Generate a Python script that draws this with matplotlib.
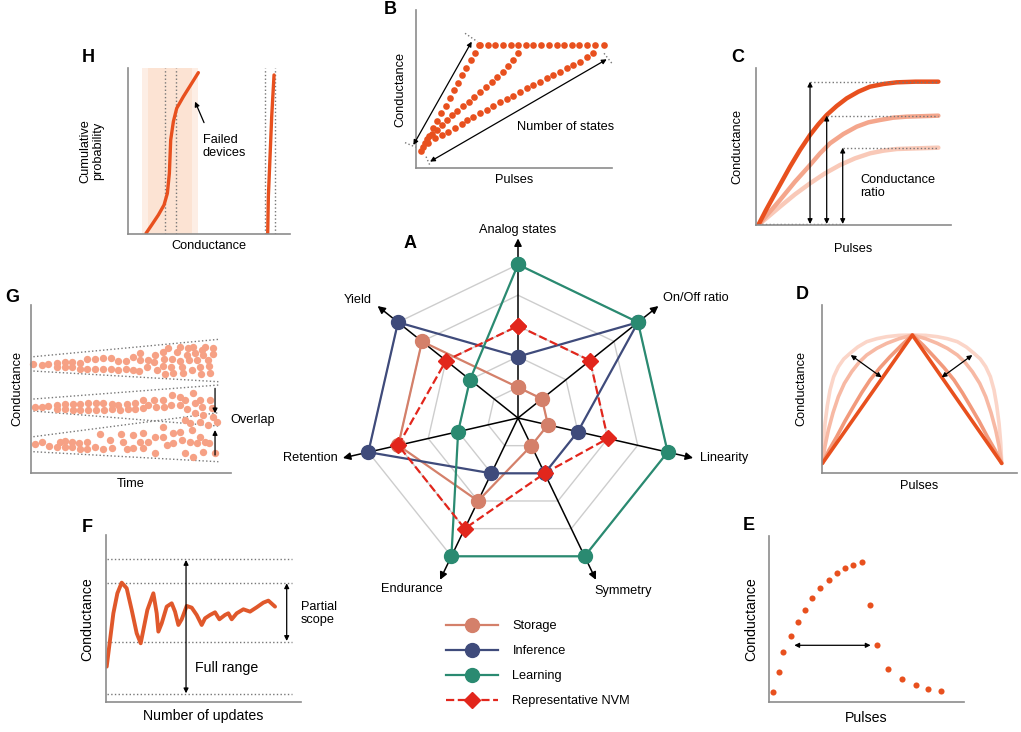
"""
NVM device requirement overview: radar chart (A) with schematic panels B-H.
"""
import numpy as np
import matplotlib
matplotlib.use("Agg")
import matplotlib.pyplot as plt

plt.rcParams["font.family"] = ["Liberation Sans", "DejaVu Sans"]

# ---------------- data ----------------
# A: radar
axis_names = ["Analog states", "On/Off ratio", "Linearity", "Symmetry",
              "Endurance", "Retention", "Yield"]
storage = [1, 1, 1, 1, 3, 4, 4]
inference = [2, 5, 2, 2, 2, 5, 5]
learning = [5, 5, 5, 5, 5, 2, 2]
nvm = [3, 3, 3, 2, 4, 4, 3]
ring_levels = [1, 2, 3, 4, 5]

# B: pulse-by-pulse conductance states (three devices)
b_steep_x = [15, 27, 40, 52, 65, 77, 90, 102, 115, 127, 140, 152, 165, 177, 190,
             193, 216, 238, 261, 285, 308, 331, 353, 376, 400, 423, 446, 468, 491, 515, 538, 565]
b_steep_y = [53, 75, 98, 120, 143, 166, 188, 211, 234, 256, 279, 302, 324, 347, 370,
             370, 370, 370, 370, 370, 370, 370, 370, 370, 370, 370, 370, 370, 370, 370, 370, 370]
b_mid_x = [33, 48, 63, 78, 93, 108, 125, 143, 161, 176, 193, 211, 228, 245, 261, 278, 293, 308]
b_mid_y = [87, 103, 115, 130, 145, 160, 173, 187, 200, 213, 228, 243, 260, 275, 290, 307, 325, 345]
b_low_x = [23, 38, 58, 78, 98, 118, 138, 155, 173, 193, 213, 233, 253, 273, 293, 313, 333, 353,
           373, 393, 413, 433, 453, 473, 493, 515, 533]
b_low_y = [65, 75, 90, 100, 110, 120, 133, 145, 155, 165, 175, 188, 198, 207, 217, 228, 240, 250,
           260, 270, 280, 290, 300, 310, 320, 333, 345]

# C: conductance ratio curves
c_x_dark = [8, 30, 53, 78, 103, 133, 163, 188, 213, 243, 273, 308, 343, 383, 423, 480, 548]
c_y_dark = [0, 43, 85, 130, 175, 225, 270, 302, 330, 357, 380, 400, 415, 423, 428, 430, 430]
c_x_mid = [8, 40, 73, 118, 163, 193, 223, 263, 303, 338, 373, 413, 453, 548]
c_y_mid = [0, 37, 75, 130, 180, 215, 245, 273, 295, 308, 315, 322, 325, 328]
c_x_light = [8, 40, 73, 118, 163, 208, 253, 298, 343, 383, 423, 548]
c_y_light = [0, 27, 55, 92, 125, 155, 180, 200, 215, 223, 228, 232]
c_levels = [430, 328, 232]
c_level_start = [163, 213, 261]
c_arrow_x = [163, 213, 261]

# D: potentiation / depression symmetry
d_x_lin = [2, 272, 540]
d_y_lin = [28, 413, 28]
d_x1 = [2, 5, 10, 17, 25, 36, 50, 66, 85, 108, 135, 165, 195, 232, 272,
        312, 347, 377, 407, 434, 457, 476, 492, 506, 517, 525, 532, 537, 540]
d_y1 = [28, 90, 148, 202, 248, 288, 318, 341, 358, 377, 393, 402, 408, 412, 413,
        412, 408, 402, 393, 377, 358, 341, 318, 288, 248, 202, 148, 90, 28]
d_x2 = [2, 10, 20, 34, 50, 68, 90, 112, 135, 165, 195, 232, 272,
        312, 347, 377, 407, 430, 452, 474, 492, 508, 522, 532, 540]
d_y2 = [28, 80, 128, 180, 228, 268, 303, 331, 353, 373, 388, 402, 413,
        402, 388, 373, 353, 331, 303, 268, 228, 180, 128, 80, 28]
d_x3 = [2, 22, 45, 70, 95, 120, 145, 175, 205, 238, 272,
        306, 337, 367, 397, 422, 447, 472, 497, 520, 540]
d_y3 = [28, 68, 108, 155, 198, 240, 278, 315, 348, 381, 413,
        381, 348, 315, 278, 240, 198, 155, 108, 68, 28]

# E: asymmetric up/down pulses
e_x = [12, 28, 42, 64, 86, 106, 128, 152, 180, 204, 228, 252, 277,
       302, 322, 357, 397, 440, 477, 515]
e_y = [30, 91, 151, 198, 241, 278, 313, 343, 367, 388, 402, 413, 420,
       291, 171, 101, 69, 51, 40, 33]

# F: conductance during updates
f_x = [3, 13, 23, 35, 48, 63, 78, 93, 105, 113, 125, 143, 153, 158, 168, 183, 198, 208,
       218, 228, 243, 258, 273, 288, 298, 313, 328, 341, 358, 368, 378, 393, 413, 433,
       453, 473, 488, 508]
f_y = [107, 187, 267, 327, 359, 342, 277, 207, 177, 217, 277, 327, 267, 212, 237, 287, 297, 272,
       232, 249, 289, 284, 262, 232, 252, 262, 270, 249, 262, 267, 249, 267, 279, 272,
       285, 299, 305, 287]
f_levels = [430, 357, 182, 25]

# G: retention drift of three levels
g1_x = [8, 33, 53, 78, 80, 103, 103, 123, 123, 148, 148, 170, 170, 193, 193, 216, 218, 241, 241,
        263, 263, 286, 286, 308, 308, 328, 328, 326, 348, 353, 373, 370, 378, 398, 400, 398, 403,
        413, 423, 420, 428, 438, 448, 448, 453, 458, 468, 473, 476, 483, 488, 493, 498, 508, 510,
        513, 518, 523, 533, 536, 538, 546, 548]
g1_y = [326, 323, 326, 330, 316, 333, 316, 333, 316, 330, 310, 340, 311, 340, 311, 343, 311, 343, 311,
        335, 308, 335, 310, 348, 308, 360, 338, 305, 316, 338, 353, 333, 308, 363, 340, 320, 296,
        373, 340, 318, 298, 363, 376, 335, 318, 298, 353, 373, 338, 308, 378, 358, 338, 318, 296,
        368, 353, 376, 338, 320, 298, 373, 356]
g2_x = [13, 33, 53, 80, 80, 103, 103, 126, 126, 148, 148, 173, 173, 196, 196, 218, 220, 243, 243,
        263, 268, 288, 293, 313, 313, 338, 338, 353, 370, 376, 398, 400, 423, 420, 448, 448, 463,
        468, 488, 493, 493, 508, 513, 518, 538, 543, 548, 560, 463, 478, 508, 533]
g2_y = [196, 198, 200, 203, 190, 206, 190, 206, 188, 206, 188, 208, 188, 208, 188, 208, 188, 205, 190,
        203, 188, 206, 190, 208, 191, 218, 193, 203, 218, 196, 218, 198, 233, 203, 228, 203, 218,
        190, 238, 208, 178, 218, 198, 173, 218, 193, 168, 153, 158, 148, 153, 143]
g3_x = [13, 33, 56, 78, 88, 103, 103, 123, 123, 146, 148, 168, 170, 193, 208, 218, 238, 243, 270,
        278, 288, 308, 308, 328, 336, 336, 353, 373, 373, 398, 398, 408, 428, 428, 448, 453, 463,
        478, 483, 488, 498, 508, 518, 523, 536, 553]
g3_y = [86, 91, 81, 78, 93, 95, 78, 93, 78, 90, 70, 93, 70, 78, 116, 70, 98, 75, 116,
        93, 70, 113, 75, 93, 120, 73, 93, 58, 108, 138, 108, 83, 118, 88, 123, 98, 58,
        93, 128, 48, 88, 108, 63, 93, 90, 58]
g_bound_x = [8, 563]
g_bounds_y = [[348, 400], [305, 273], [221, 263], [185, 140], [108, 180], [63, 33]]

# H: cumulative distribution
h_x_low = [55, 72, 92, 109, 119, 125, 129, 137, 147, 167, 192, 212]
h_y_low = [3, 28, 58, 88, 123, 183, 283, 338, 378, 413, 453, 485]
h_x_high = [420, 422, 427, 432, 439]
h_y_high = [3, 113, 233, 353, 478]
h_guides = [113, 145, 411, 443]

# ---------------- style ----------------
ORANGE = "#e8501e"
F_ORANGE = "#e0582b"
SALMON = "#f6a185"
SPINE = "#8c8c8c"
DOT = "#777777"
FS = 9.2
FS_BIG = 10.2

W, H = 1021, 732
fig = plt.figure(figsize=(W / 100, H / 100), dpi=100)


def panel(left, top, right, bottom):
    ax = fig.add_axes([left / W, 1 - bottom / H, (right - left) / W, (bottom - top) / H])
    ax.set_xlim(0, (right - left) * 3)
    ax.set_ylim(0, (bottom - top) * 3)
    ax.set_xticks([])
    ax.set_yticks([])
    for s in ["top", "right"]:
        ax.spines[s].set_visible(False)
    for s in ["left", "bottom"]:
        ax.spines[s].set_color(SPINE)
        ax.spines[s].set_linewidth(1.2)
    ax.patch.set_alpha(0)
    return ax


def darrow(ax, x0, y0, x1, y1, style="<|-|>", ms=7):
    ax.annotate("", xy=(x1, y1), xytext=(x0, y0),
                arrowprops=dict(arrowstyle=style, color="black", lw=0.9,
                                mutation_scale=ms, shrinkA=0, shrinkB=0))


def letter(x, y, s):
    fig.text(x / W, 1 - y / H, s, fontsize=13, fontweight="bold", ha="center", va="center")


# ---------------- A: radar ----------------
cx, cy, rad = 518, 418, 6.4 * 30.7
axr = fig.add_axes([(cx - rad) / W, 1 - (cy + rad) / H, 2 * rad / W, 2 * rad / H], projection="polar")
axr.set_theta_offset(np.pi / 2)
axr.set_theta_direction(-1)
axr.set_ylim(0, 6.4)
axr.grid(False)
axr.set_xticks([])
axr.set_yticks([])
axr.spines["polar"].set_visible(False)
axr.patch.set_visible(False)

theta = np.arange(len(axis_names)) * 2 * np.pi / len(axis_names)
theta_c = np.append(theta, theta[0])

for lv in ring_levels:
    axr.plot(theta_c, [lv] * len(theta_c), color="#cdcdcd", lw=1, zorder=1)
for th in theta:
    axr.annotate("", xy=(th, 5.85), xytext=(th, 0),
                 arrowprops=dict(arrowstyle="-|>", color="black", lw=1.1,
                                 mutation_scale=11, shrinkA=0, shrinkB=0), zorder=2)

series = [
    (storage, "Storage", "#d4806a", "-", "o"),
    (inference, "Inference", "#3f4b7b", "-", "o"),
    (learning, "Learning", "#2a8a71", "-", "o"),
    (nvm, "Representative NVM", "#e2261c", "--", "D"),
]
handles = []
for vals, name, col, ls, mk in series:
    v = np.append(vals, vals[0])
    ln, = axr.plot(theta_c, v, color=col, lw=1.6, ls=ls, marker=mk,
                   ms=10 if mk == "o" else 8.5, markeredgecolor=col,
                   markerfacecolor=col, zorder=3, label=name, clip_on=False)
    handles.append(ln)

label_deg = [0, 50.4, 102.4, 148.8, 211.8, 257.5, 306.4]
label_r = [6.12, 6.12, 6.07, 6.6, 6.55, 6.0, 6.47]
label_ha = ["center", "left", "left", "center", "center", "right", "center"]
for name, dg, rr, ha in zip(axis_names, label_deg, label_r, label_ha):
    axr.text(np.deg2rad(dg), rr, name, ha=ha, va="center", fontsize=FS)

axr.legend(handles=handles, loc="upper left", bbox_to_anchor=(446 / W, 1 - 620 / H),
           bbox_transform=fig.transFigure, frameon=False, fontsize=FS,
           handlelength=4.1, handletextpad=1.1, labelspacing=1.02,
           borderpad=0, borderaxespad=0)
letter(410, 243, "A")

# ---------------- B ----------------
ax = panel(415.7, 10, 611.7, 168.3)
ax.plot(b_low_x, b_low_y, "o", color=ORANGE, ms=4.8, mec="none", clip_on=False)
ax.plot(b_mid_x, b_mid_y, "o", color=ORANGE, ms=4.8, mec="none", clip_on=False)
ax.plot(b_steep_x, b_steep_y, "o", color=ORANGE, ms=4.8, mec="none", clip_on=False)
darrow(ax, -7, 70, 168, 380)
darrow(ax, 43, 20, 573, 327)
for (x0, y0, x1, y1) in [(-32, 77, 1, 63), (148, 405, 185, 380), (31, 35, 43, 8), (565, 345, 590, 313)]:
    ax.plot([x0, x1], [y0, y1], ls=":", color=DOT, lw=1, clip_on=False)
ax.text(303, 123, "Number of states", fontsize=FS, va="center")
ax.set_xlabel("Pulses", fontsize=FS, labelpad=4)
ax.set_ylabel("Conductance", fontsize=FS, labelpad=7)
letter(390, 9, "B")

# ---------------- C ----------------
ax = panel(755.7, 68.3, 950.7, 225)
ax.plot(c_x_light, c_y_light, color="#f9c9b8", lw=3.2, solid_capstyle="round")
ax.plot(c_x_mid, c_y_mid, color="#f4a68c", lw=3.2, solid_capstyle="round")
ax.plot(c_x_dark, c_y_dark, color=ORANGE, lw=3.2, solid_capstyle="round")
ax.hlines(c_levels, c_level_start, 548, colors=DOT, linestyles=":", lw=1)
ax.hlines(3, 8, 263, colors=DOT, linestyles=":", lw=1)
for xa, lv in zip(c_arrow_x, c_levels):
    darrow(ax, xa, 3, xa, lv)
ax.text(313, 115, "Conductance\nratio", fontsize=FS, va="center", linespacing=1.15)
ax.set_xlabel("Pulses", fontsize=FS, labelpad=13)
ax.set_ylabel("Conductance", fontsize=FS, labelpad=9)
letter(738, 57, "C")

# ---------------- D ----------------
ax = panel(821.7, 305, 1016.7, 472.7)
ax.plot(d_x1, d_y1, color="#fbd5c8", lw=2.6, solid_capstyle="round")
ax.plot(d_x2, d_y2, color="#f7b9a4", lw=2.6, solid_capstyle="round")
ax.plot(d_x3, d_y3, color="#f29a7c", lw=2.6, solid_capstyle="round")
ax.plot(d_x_lin, d_y_lin, color=ORANGE, lw=2.6, solid_capstyle="round")
darrow(ax, 180, 286, 87, 353)
darrow(ax, 360, 286, 452, 353)
ax.set_xlabel("Pulses", fontsize=FS, labelpad=5)
ax.set_ylabel("Conductance", fontsize=FS, labelpad=10)
letter(802, 295, "D")

# ---------------- E ----------------
ax = panel(769.3, 536, 964, 702.3)
ax.plot(e_x, e_y, "o", color=ORANGE, ms=4.4, mec="none", clip_on=False)
darrow(ax, 75, 171, 304, 171)
ax.set_xlabel("Pulses", fontsize=FS_BIG, labelpad=6)
ax.set_ylabel("Conductance", fontsize=FS_BIG, labelpad=8)
letter(749, 526, "E")

# ---------------- F ----------------
ax = panel(105.7, 535, 300.7, 702.3)
ax.hlines(f_levels, 3, 558, colors=DOT, linestyles=":", lw=1)
ax.plot(f_x, f_y, color=F_ORANGE, lw=2.8, solid_capstyle="round", solid_joinstyle="round")
darrow(ax, 241, 27, 241, 427)
darrow(ax, 543, 184, 543, 357)
ax.text(268, 102, "Full range", fontsize=FS_BIG, va="center")
ax.text(585, 267, "Partial\nscope", fontsize=FS, va="center", linespacing=1.15)
ax.set_xlabel("Number of updates", fontsize=FS_BIG, labelpad=5)
ax.set_ylabel("Conductance", fontsize=FS_BIG, labelpad=8)
letter(87, 527, "F")

# ---------------- G ----------------
ax = panel(30.7, 305, 230.7, 472.7)
for by in g_bounds_y:
    ax.plot(g_bound_x, by, ls=":", color=DOT, lw=1)
for gx, gy in [(g1_x, g1_y), (g2_x, g2_y), (g3_x, g3_y)]:
    ax.plot(gx, gy, "o", color=SALMON, ms=5.3, mec="none", clip_on=False)
darrow(ax, 553, 253, 553, 178, style="-|>")
darrow(ax, 553, 53, 553, 128, style="-|>")
ax.text(598, 158, "Overlap", fontsize=FS, va="center")
ax.set_xlabel("Time", fontsize=FS, labelpad=4)
ax.set_ylabel("Conductance", fontsize=FS, labelpad=5)
letter(12, 298, "G")

# ---------------- H ----------------
ax = panel(127.7, 68.3, 290, 234.3)
ax.axvspan(42, 212, color="#fdeee5", lw=0, zorder=0)
ax.axvspan(62, 192, color="#fce3d3", lw=0, zorder=0)
ax.vlines(h_guides, 0, 498, colors=DOT, linestyles=":", lw=1)
ax.plot(h_x_low, h_y_low, color=ORANGE, lw=2.4, solid_capstyle="round")
ax.plot(h_x_high, h_y_high, color=ORANGE, lw=2.4, solid_capstyle="round")
darrow(ax, 229, 335, 202, 398, style="-|>")
ax.text(225, 263, "Failed\ndevices", fontsize=FS, va="center", linespacing=1.15)
ax.set_xlabel("Conductance", fontsize=FS, labelpad=4)
ax.set_ylabel("Cumulative\nprobability", fontsize=FS, labelpad=17, linespacing=1.1)
letter(88, 57, "H")

fig.savefig("out.png", dpi=100, facecolor="white")
